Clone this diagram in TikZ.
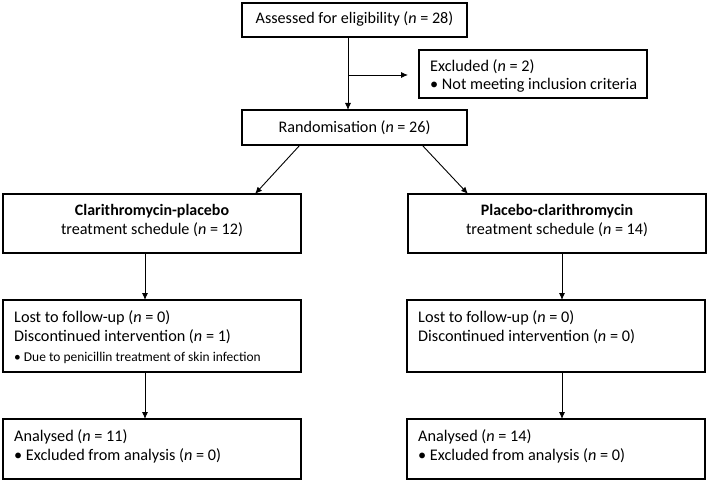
\documentclass[tikz,border=0pt]{standalone}
\usepackage{fontspec}
\setmainfont{Carlito}
\usetikzlibrary{arrows.meta,calc}
\begin{document}
\begin{tikzpicture}[x=1bp,y=-1bp,
  box/.style={draw, line width=1.5bp, inner sep=0pt, outer sep=0pt},
  conn/.style={line width=0.9bp, -{Latex[length=7bp,width=6bp]}},
  txt/.style={inner sep=0pt, anchor=base west, font=\fontsize{16.3}{18}\selectfont},
  ctxt/.style={inner sep=0pt, anchor=base, font=\fontsize{16.2}{18}\selectfont},
  btxt/.style={inner sep=0pt, anchor=base, font=\fontsize{16}{18}\selectfont\bfseries},
  smalltxt/.style={inner sep=0pt, anchor=base west, font=\fontsize{13.5}{15}\selectfont}]
\useasboundingbox (0,0) rectangle (709,482);

% boxes
\node[box, minimum width=225bp, minimum height=34bp] (assess) at (354.5,20) {};
\node[box, minimum width=228bp, minimum height=48bp] (excl) at (533,74) {};
\node[box, minimum width=225bp, minimum height=35bp] (rand) at (354.5,127.5) {};
\node[box, minimum width=298bp, minimum height=59bp] (clar) at (152,223.5) {};
\node[box, minimum width=298bp, minimum height=59bp] (plac) at (557,223.5) {};
\node[box, minimum width=298bp, minimum height=72bp] (lostA) at (152,336) {};
\node[box, minimum width=298bp, minimum height=72bp] (lostB) at (556,336) {};
\node[box, minimum width=298bp, minimum height=60bp] (anA) at (152,449) {};
\node[box, minimum width=298bp, minimum height=60bp] (anB) at (556,449) {};

% texts
\node[ctxt] (tAssess) at (354.5,24) {Assessed for eligibility (\textit{n} = 28)};
\node[txt] (tExcl1) at (430,72) {Excluded (\textit{n} = 2)};
\node[txt] (tExcl2) at (430,90) {\textbullet\ Not meeting inclusion criteria};
\node[ctxt] (tRand) at (354.5,133) {Randomisation (\textit{n} = 26)};
\node[btxt] (tClar1) at (152,216) {Clarithromycin-placebo};
\node[ctxt] (tClar2) at (152,235) {treatment schedule (\textit{n} = 12)};
\node[btxt] (tPlac1) at (557,216) {Placebo-clarithromycin};
\node[ctxt] (tPlac2) at (557,235) {treatment schedule (\textit{n} = 14)};
\node[txt] (tLostA1) at (14,322) {Lost to follow-up (\textit{n} = 0)};
\node[txt] (tLostA2) at (14,341) {Discontinued intervention (\textit{n} = 1)};
\node[smalltxt] (tLostA3) at (14,361) {\textbullet\ Due to penicillin treatment of skin infection};
\node[txt] (tLostB1) at (418,322) {Lost to follow-up (\textit{n} = 0)};
\node[txt] (tLostB2) at (418,341) {Discontinued intervention (\textit{n} = 0)};
\node[txt] (tAnA1) at (14,441) {Analysed (\textit{n} = 11)};
\node[txt] (tAnA2) at (14,460) {\textbullet\ Excluded from analysis (\textit{n} = 0)};
\node[txt] (tAnB1) at (418,441) {Analysed (\textit{n} = 14)};
\node[txt] (tAnB2) at (418,460) {\textbullet\ Excluded from analysis (\textit{n} = 0)};

% connectors
\coordinate (a1) at ($(assess.south west)+(106,0)$);
\draw[conn] (a1) -- (a1 |- rand.north);
\coordinate (br) at ($(a1)+(0,38)$);
\draw[conn, shorten >=11bp] (br) -- (br -| excl.west);
\coordinate (r1) at ($(rand.south west)+(58,0)$);
\coordinate (r2) at ($(rand.south west)+(180,0)$);
\coordinate (c0) at ($(clar.north west)+(252,0)$);
\coordinate (p0) at ($(plac.north west)+(60,0)$);
\draw[conn] (r1) -- (c0);
\draw[conn] (r2) -- (p0);
\coordinate (c1) at ($(clar.south west)+(142,0)$);
\draw[conn] (c1) -- (c1 |- lostA.north);
\coordinate (c2) at ($(lostA.south west)+(142,0)$);
\draw[conn] (c2) -- (c2 |- anA.north);
\coordinate (p1) at ($(plac.south west)+(154,0)$);
\draw[conn] (p1) -- (p1 |- lostB.north);
\coordinate (p2) at ($(lostB.south west)+(155,0)$);
\draw[conn] (p2) -- (p2 |- anB.north);
\end{tikzpicture}
\end{document}
